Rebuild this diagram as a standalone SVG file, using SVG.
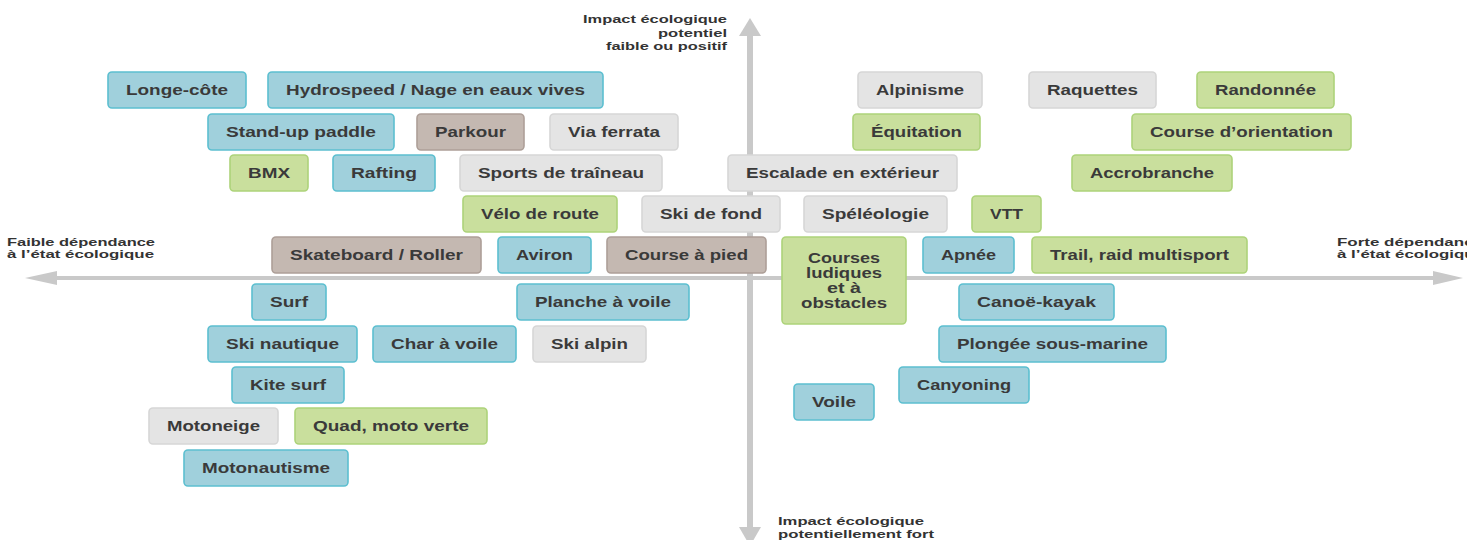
<svg xmlns="http://www.w3.org/2000/svg" width="1467" height="540" viewBox="0 0 1467 540">
<style>
rect.n{stroke-width:1.6}
.blue{fill:#a0d0dc;stroke:#5cbfd0}
.green{fill:#c9df9d;stroke:#add37a}
.gray{fill:#e4e4e4;stroke:#d6d6d6}
.brown{fill:#c4b8b1;stroke:#ad9f98}
text{font-family:"Liberation Sans",Arial,sans-serif;font-weight:bold;fill:#3a3a3a}
.t{font-size:15px;text-anchor:middle}
.ax{font-size:11.5px;fill:#333}
.axl{stroke:#c9c9c9;fill:none}
.ah{fill:#c9c9c9}
</style>
<rect width="1467" height="540" fill="#ffffff"/>
<g id="axes">
<line class="axl" x1="750" y1="34" x2="750" y2="530" stroke-width="6"/>
<polygon class="ah" points="750,18 739,36 761,36"/>
<polygon class="ah" points="750,546 739,527 761,527"/>
<line class="axl" x1="55" y1="278" x2="1435" y2="278" stroke-width="4"/>
<polygon class="ah" points="25,278 57,271 57,285"/>
<polygon class="ah" points="1463,278 1433,271 1433,285"/>
</g>
<g id="axis-labels">
<text class="ax" x="727" y="23" text-anchor="end" textLength="144" lengthAdjust="spacingAndGlyphs">Impact écologique</text>
<text class="ax" x="727" y="36.5" text-anchor="end" textLength="69" lengthAdjust="spacingAndGlyphs">potentiel</text>
<text class="ax" x="727" y="50" text-anchor="end" textLength="121" lengthAdjust="spacingAndGlyphs">faible ou positif</text>
<text class="ax" x="7" y="246" textLength="148" lengthAdjust="spacingAndGlyphs">Faible dépendance</text>
<text class="ax" x="7" y="258" textLength="147" lengthAdjust="spacingAndGlyphs">à l’état écologique</text>
<text class="ax" x="1337" y="246" textLength="146" lengthAdjust="spacingAndGlyphs">Forte dépendance</text>
<text class="ax" x="1337" y="258" textLength="147" lengthAdjust="spacingAndGlyphs">à l’état écologique</text>
<text class="ax" x="778" y="525" textLength="146" lengthAdjust="spacingAndGlyphs">Impact écologique</text>
<text class="ax" x="778" y="538" textLength="156" lengthAdjust="spacingAndGlyphs">potentiellement fort</text>
</g>
<g id="n-longe-cote"><rect class="n blue" x="108" y="72" width="138" height="36" rx="4"/><text class="t" x="177" y="95" textLength="102" lengthAdjust="spacingAndGlyphs">Longe-côte</text></g>
<g id="n-hydrospeed"><rect class="n blue" x="268" y="72" width="335" height="36" rx="4"/><text class="t" x="435.5" y="95" textLength="299" lengthAdjust="spacingAndGlyphs">Hydrospeed / Nage en eaux vives</text></g>
<g id="n-alpinisme"><rect class="n gray" x="858" y="72" width="124" height="36" rx="4"/><text class="t" x="920" y="95" textLength="88" lengthAdjust="spacingAndGlyphs">Alpinisme</text></g>
<g id="n-raquettes"><rect class="n gray" x="1029" y="72" width="127" height="36" rx="4"/><text class="t" x="1092.5" y="95" textLength="91" lengthAdjust="spacingAndGlyphs">Raquettes</text></g>
<g id="n-randonnee"><rect class="n green" x="1197" y="72" width="137" height="36" rx="4"/><text class="t" x="1265.5" y="95" textLength="101" lengthAdjust="spacingAndGlyphs">Randonnée</text></g>
<g id="n-standup"><rect class="n blue" x="208" y="114" width="186" height="36" rx="4"/><text class="t" x="301" y="137" textLength="150" lengthAdjust="spacingAndGlyphs">Stand-up paddle</text></g>
<g id="n-parkour"><rect class="n brown" x="417" y="114" width="107" height="36" rx="4"/><text class="t" x="470.5" y="137" textLength="71" lengthAdjust="spacingAndGlyphs">Parkour</text></g>
<g id="n-viaferrata"><rect class="n gray" x="550" y="114" width="128" height="36" rx="4"/><text class="t" x="614" y="137" textLength="92" lengthAdjust="spacingAndGlyphs">Via ferrata</text></g>
<g id="n-equitation"><rect class="n green" x="853" y="114" width="127" height="36" rx="4"/><text class="t" x="916.5" y="137" textLength="91" lengthAdjust="spacingAndGlyphs">Équitation</text></g>
<g id="n-orientation"><rect class="n green" x="1132" y="114" width="219" height="36" rx="4"/><text class="t" x="1241.5" y="137" textLength="183" lengthAdjust="spacingAndGlyphs">Course d’orientation</text></g>
<g id="n-bmx"><rect class="n green" x="230" y="155" width="78" height="36" rx="4"/><text class="t" x="269" y="178" textLength="42" lengthAdjust="spacingAndGlyphs">BMX</text></g>
<g id="n-rafting"><rect class="n blue" x="333" y="155" width="102" height="36" rx="4"/><text class="t" x="384" y="178" textLength="66" lengthAdjust="spacingAndGlyphs">Rafting</text></g>
<g id="n-traineau"><rect class="n gray" x="460" y="155" width="202" height="36" rx="4"/><text class="t" x="561" y="178" textLength="166" lengthAdjust="spacingAndGlyphs">Sports de traîneau</text></g>
<g id="n-escalade"><rect class="n gray" x="728" y="155" width="229" height="36" rx="4"/><text class="t" x="842.5" y="178" textLength="193" lengthAdjust="spacingAndGlyphs">Escalade en extérieur</text></g>
<g id="n-accrobranche"><rect class="n green" x="1072" y="155" width="160" height="36" rx="4"/><text class="t" x="1152" y="178" textLength="124" lengthAdjust="spacingAndGlyphs">Accrobranche</text></g>
<g id="n-velo"><rect class="n green" x="463" y="196" width="154" height="36" rx="4"/><text class="t" x="540" y="219" textLength="118" lengthAdjust="spacingAndGlyphs">Vélo de route</text></g>
<g id="n-skifond"><rect class="n gray" x="642" y="196" width="138" height="36" rx="4"/><text class="t" x="711" y="219" textLength="102" lengthAdjust="spacingAndGlyphs">Ski de fond</text></g>
<g id="n-speleo"><rect class="n gray" x="804" y="196" width="143" height="36" rx="4"/><text class="t" x="875.5" y="219" textLength="107" lengthAdjust="spacingAndGlyphs">Spéléologie</text></g>
<g id="n-vtt"><rect class="n green" x="972" y="196" width="69" height="36" rx="4"/><text class="t" x="1006.5" y="219" textLength="33" lengthAdjust="spacingAndGlyphs">VTT</text></g>
<g id="n-skate"><rect class="n brown" x="272" y="237" width="209" height="36" rx="4"/><text class="t" x="376.5" y="260" textLength="173" lengthAdjust="spacingAndGlyphs">Skateboard / Roller</text></g>
<g id="n-aviron"><rect class="n blue" x="498" y="237" width="93" height="36" rx="4"/><text class="t" x="544.5" y="260" textLength="57" lengthAdjust="spacingAndGlyphs">Aviron</text></g>
<g id="n-coursepied"><rect class="n brown" x="607" y="237" width="159" height="36" rx="4"/><text class="t" x="686.5" y="260" textLength="123" lengthAdjust="spacingAndGlyphs">Course à pied</text></g>
<g id="n-ludiques"><rect class="n green" x="782" y="237" width="124" height="87" rx="4"/><text class="t" x="844" y="263" textLength="72" lengthAdjust="spacingAndGlyphs">Courses</text><text class="t" x="844" y="278" textLength="76" lengthAdjust="spacingAndGlyphs">ludiques</text><text class="t" x="844" y="293" textLength="34" lengthAdjust="spacingAndGlyphs">et à</text><text class="t" x="844" y="308" textLength="86" lengthAdjust="spacingAndGlyphs">obstacles</text></g>
<g id="n-apnee"><rect class="n blue" x="923" y="237" width="91" height="36" rx="4"/><text class="t" x="968.5" y="260" textLength="55" lengthAdjust="spacingAndGlyphs">Apnée</text></g>
<g id="n-trail"><rect class="n green" x="1032" y="237" width="215" height="36" rx="4"/><text class="t" x="1139.5" y="260" textLength="179" lengthAdjust="spacingAndGlyphs">Trail, raid multisport</text></g>
<g id="n-surf"><rect class="n blue" x="252" y="284" width="74" height="36" rx="4"/><text class="t" x="289" y="307" textLength="38" lengthAdjust="spacingAndGlyphs">Surf</text></g>
<g id="n-planche"><rect class="n blue" x="517" y="284" width="172" height="36" rx="4"/><text class="t" x="603" y="307" textLength="136" lengthAdjust="spacingAndGlyphs">Planche à voile</text></g>
<g id="n-canoe"><rect class="n blue" x="959" y="284" width="155" height="36" rx="4"/><text class="t" x="1036.5" y="307" textLength="119" lengthAdjust="spacingAndGlyphs">Canoë-kayak</text></g>
<g id="n-skinautique"><rect class="n blue" x="208" y="326" width="149" height="36" rx="4"/><text class="t" x="282.5" y="349" textLength="113" lengthAdjust="spacingAndGlyphs">Ski nautique</text></g>
<g id="n-charvoile"><rect class="n blue" x="373" y="326" width="143" height="36" rx="4"/><text class="t" x="444.5" y="349" textLength="107" lengthAdjust="spacingAndGlyphs">Char à voile</text></g>
<g id="n-skialpin"><rect class="n gray" x="533" y="326" width="113" height="36" rx="4"/><text class="t" x="589.5" y="349" textLength="77" lengthAdjust="spacingAndGlyphs">Ski alpin</text></g>
<g id="n-plongee"><rect class="n blue" x="939" y="326" width="227" height="36" rx="4"/><text class="t" x="1052.5" y="349" textLength="191" lengthAdjust="spacingAndGlyphs">Plongée sous-marine</text></g>
<g id="n-kitesurf"><rect class="n blue" x="232" y="367" width="112" height="36" rx="4"/><text class="t" x="288" y="390" textLength="76" lengthAdjust="spacingAndGlyphs">Kite surf</text></g>
<g id="n-canyoning"><rect class="n blue" x="899" y="367" width="130" height="36" rx="4"/><text class="t" x="964" y="390" textLength="94" lengthAdjust="spacingAndGlyphs">Canyoning</text></g>
<g id="n-voile"><rect class="n blue" x="794" y="384" width="80" height="36" rx="4"/><text class="t" x="834" y="407" textLength="44" lengthAdjust="spacingAndGlyphs">Voile</text></g>
<g id="n-motoneige"><rect class="n gray" x="149" y="408" width="129" height="36" rx="4"/><text class="t" x="213.5" y="431" textLength="93" lengthAdjust="spacingAndGlyphs">Motoneige</text></g>
<g id="n-quad"><rect class="n green" x="295" y="408" width="192" height="36" rx="4"/><text class="t" x="391" y="431" textLength="156" lengthAdjust="spacingAndGlyphs">Quad, moto verte</text></g>
<g id="n-motonautisme"><rect class="n blue" x="184" y="450" width="164" height="36" rx="4"/><text class="t" x="266" y="473" textLength="128" lengthAdjust="spacingAndGlyphs">Motonautisme</text></g>
</svg>
